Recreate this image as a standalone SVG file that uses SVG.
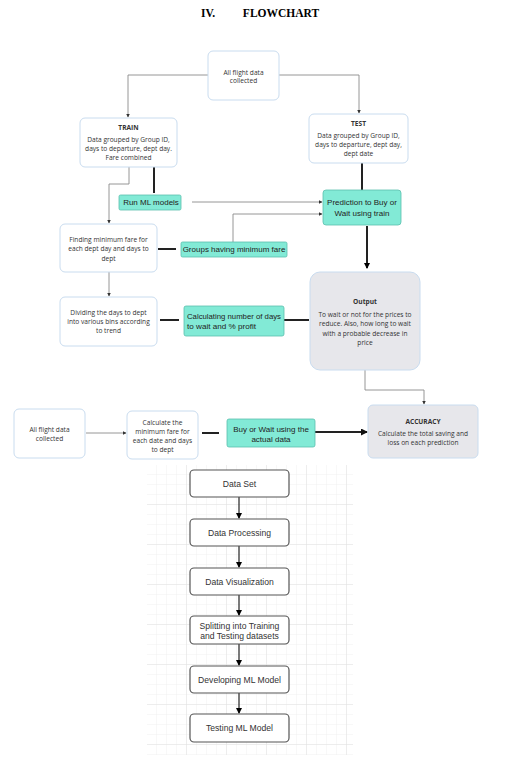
<svg xmlns="http://www.w3.org/2000/svg" width="506" height="766" viewBox="0 0 506 766">
<defs>
<marker id="sa" markerWidth="4" markerHeight="4" refX="3.5" refY="2" orient="auto" markerUnits="userSpaceOnUse"><path d="M0,0 L4,2 L0,4 z" fill="#333"/></marker>
<marker id="ta" markerWidth="6" markerHeight="6" refX="5" refY="3" orient="auto" markerUnits="userSpaceOnUse"><path d="M0,0 L6,3 L0,6 z" fill="#000"/></marker>
<marker id="ba" markerWidth="7" markerHeight="7" refX="6" refY="3.5" orient="auto" markerUnits="userSpaceOnUse"><path d="M0,0 L7,3.5 L0,7 z" fill="#111"/></marker>
<pattern id="gminor" width="10" height="10" patternUnits="userSpaceOnUse" x="147" y="465"><path d="M10,0 V10 M0,10 H10" fill="none" stroke="#eeeeee" stroke-width="0.8"/></pattern>
<pattern id="gmajor" width="40" height="40" patternUnits="userSpaceOnUse" x="147" y="465"><path d="M40,0 V40 M0,40 H40" fill="none" stroke="#e0e0e0" stroke-width="0.9"/></pattern>
</defs>
<style>
.wb{fill:#fff;stroke:#c9dcef;stroke-width:1}
.gb{fill:#e7e7eb;stroke:#c9dcef;stroke-width:1}
.tb{fill:#82ead6;stroke:#5bbfad;stroke-width:0.8}
.fb{fill:#fff;stroke:#555;stroke-width:1.2}
.t{font-family:"Open Sans","Liberation Sans",sans-serif;font-size:6.6px;fill:#333;text-anchor:middle;dominant-baseline:central}
.tbld{font-weight:bold}
.a{font-family:"Liberation Sans",Arial,sans-serif;font-size:8px;fill:#222;text-anchor:middle;dominant-baseline:central}
.f{font-family:"Liberation Sans",Arial,sans-serif;font-size:8.6px;fill:#333;text-anchor:middle;dominant-baseline:central}
.thin{fill:none;stroke:#8a8a8a;stroke-width:0.9}
.thick{fill:none;stroke:#222;stroke-width:2}
.fl{fill:none;stroke:#222;stroke-width:1.2}
</style>
<rect width="506" height="766" fill="#fff"/>
<text x="208" y="17" font-family="Liberation Serif,serif" font-weight="bold" font-size="11.5" text-anchor="middle" fill="#000">IV.</text>
<text x="281" y="17" font-family="Liberation Serif,serif" font-weight="bold" font-size="11.5" text-anchor="middle" fill="#000">FLOWCHART</text>
<rect x="147" y="465" width="206" height="290" fill="url(#gminor)"/>
<rect x="147" y="465" width="206" height="290" fill="url(#gmajor)"/>
<g id="connectors">
<path class="thin" d="M208,75 H128 V117" marker-end="url(#sa)"/>
<path class="thin" d="M279,75 H359 V113" marker-end="url(#sa)"/>
<path class="thin" d="M129,167 V184 H109 V223" marker-end="url(#sa)"/>
<path class="thick" d="M154,167 V193"/>
<path class="thick" d="M362,163 V190"/>
<path class="thin" d="M192,202 H322" marker-end="url(#sa)"/>
<path class="thin" d="M233,242 V214 H322" marker-end="url(#sa)"/>
<path class="thick" d="M158,249 H176"/>
<path class="thick" d="M367,226 V268" stroke-width="2.4" marker-end="url(#ta)"/>
<path class="thin" d="M109,272 V296" marker-end="url(#sa)"/>
<path class="thick" d="M160,320 H179"/>
<path class="thick" d="M284,320 H309" stroke-width="1.6"/>
<path class="thin" d="M365,370 V390 H424 V404" marker-end="url(#sa)"/>
<path class="thin" d="M86,433 H126" marker-end="url(#sa)"/>
<path class="thick" d="M202,433 H219"/>
<path class="thick" d="M315,432 H367" stroke-width="2.6" marker-end="url(#ba)"/>
<path class="fl" d="M239,497 V518" marker-end="url(#ta)"/>
<path class="fl" d="M239,546 V567" marker-end="url(#ta)"/>
<path class="fl" d="M239,595 V615" marker-end="url(#ta)"/>
<path class="fl" d="M239,644 V665" marker-end="url(#ta)"/>
<path class="fl" d="M239,693 V713" marker-end="url(#ta)"/>
</g>
<g id="n-all1"><rect class="wb" x="208" y="51" width="71" height="49" rx="5"/><text class="t" x="243.5" y="72">All flight data</text><text class="t" x="243.5" y="80.5">collected</text></g>
<g id="n-train"><rect class="wb" x="80" y="118" width="97" height="49" rx="5"/><text class="t tbld" x="128.5" y="127">TRAIN</text><text class="t" x="128.5" y="139">Data grouped by Group ID,</text><text class="t" x="128.5" y="148">days to departure, dept day.</text><text class="t" x="128.5" y="157">Fare combined</text></g>
<g id="n-test"><rect class="wb" x="309" y="114" width="99" height="49" rx="5"/><text class="t tbld" x="358.5" y="123">TEST</text><text class="t" x="358.5" y="135">Data grouped by Group ID,</text><text class="t" x="358.5" y="144">days to departure, dept day,</text><text class="t" x="358.5" y="153">dept date</text></g>
<g id="n-runml"><rect class="tb" x="119" y="195" width="62" height="15" rx="1.5"/><text class="a" x="151" y="202.5">Run ML models</text></g>
<g id="n-pred"><rect class="tb" x="323" y="190" width="78" height="35" rx="3"/><text class="a" x="362" y="202.5">Prediction to Buy or</text><text class="a" x="362" y="213">Wait using train</text></g>
<g id="n-finding"><rect class="wb" x="60" y="224" width="97" height="48" rx="5"/><text class="t" x="108.5" y="239">Finding minimum fare for</text><text class="t" x="108.5" y="248.5">each dept day and days to</text><text class="t" x="108.5" y="258">dept</text></g>
<g id="n-groups"><rect class="tb" x="181" y="242" width="106" height="15" rx="1.5"/><text class="a" x="234" y="249.5">Groups having minimum fare</text></g>
<g id="n-dividing"><rect class="wb" x="60" y="297" width="97" height="49" rx="5"/><text class="t" x="108.5" y="312">Dividing the days to dept</text><text class="t" x="108.5" y="321">into various bins according</text><text class="t" x="108.5" y="330">to trend</text></g>
<g id="n-calc"><rect class="tb" x="184" y="306" width="100" height="30" rx="2"/><text class="a" x="187" y="316" style="text-anchor:start" textLength="94" lengthAdjust="spacingAndGlyphs">Calculating number of days</text><text class="a" x="187" y="326" style="text-anchor:start" textLength="69" lengthAdjust="spacingAndGlyphs">to wait and % profit</text></g>
<g id="n-output"><rect class="gb" x="310" y="272" width="110" height="98" rx="10"/><text class="t tbld" x="365" y="301.5">Output</text><text class="t" x="365" y="314">To wait or not for the prices to</text><text class="t" x="365" y="323.5">reduce. Also, how long to wait</text><text class="t" x="365" y="333">with a probable decrease in</text><text class="t" x="365" y="342">price</text></g>
<g id="n-all2"><rect class="wb" x="14" y="409" width="71" height="49" rx="5"/><text class="t" x="49.5" y="429">All flight data</text><text class="t" x="49.5" y="438">collected</text></g>
<g id="n-calcmin"><rect class="wb" x="127" y="411" width="71" height="48" rx="5"/><text class="t" x="162.5" y="422">Calculate the</text><text class="t" x="162.5" y="431">minimum fare for</text><text class="t" x="162.5" y="440">each date and days</text><text class="t" x="162.5" y="449">to dept</text></g>
<g id="n-buywait"><rect class="tb" x="227" y="419" width="88" height="28" rx="2"/><text class="a" x="271" y="429">Buy or Wait using the</text><text class="a" x="271" y="439.5">actual data</text></g>
<g id="n-accuracy"><rect class="gb" x="368" y="405" width="110" height="53" rx="5"/><text class="t tbld" x="423" y="421">ACCURACY</text><text class="t" x="423" y="433.5">Calculate the total saving and</text><text class="t" x="423" y="442.5">loss on each prediction</text></g>
<g id="n-dataset"><rect class="fb" x="190" y="470" width="99" height="27" rx="4"/><text class="f" x="239.5" y="484">Data Set</text></g>
<g id="n-dataproc"><rect class="fb" x="190" y="519" width="99" height="27" rx="4"/><text class="f" x="239.5" y="533">Data Processing</text></g>
<g id="n-datavis"><rect class="fb" x="190" y="568" width="99" height="27" rx="4"/><text class="f" x="239.5" y="582">Data Visualization</text></g>
<g id="n-split"><rect class="fb" x="190" y="616" width="99" height="28" rx="4"/><text class="f" x="239.5" y="625.5">Splitting into Training</text><text class="f" x="239.5" y="635.5">and Testing datasets</text></g>
<g id="n-develop"><rect class="fb" x="190" y="666" width="99" height="27" rx="4"/><text class="f" x="239.5" y="680">Developing ML Model</text></g>
<g id="n-testing"><rect class="fb" x="190" y="714" width="99" height="28" rx="4"/><text class="f" x="239.5" y="728">Testing ML Model</text></g>
</svg>
